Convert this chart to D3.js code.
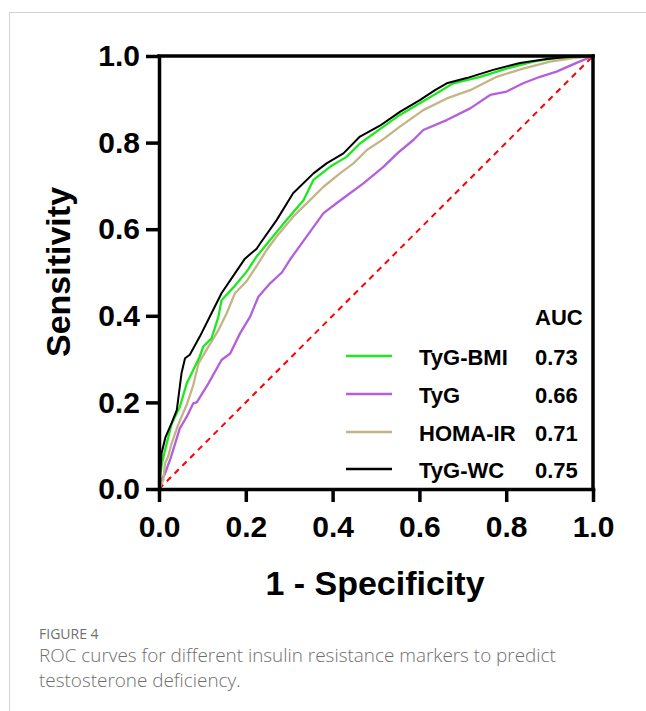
<!DOCTYPE html>
<html>
<head>
<meta charset="utf-8">
<script src="https://cdn.jsdelivr.net/npm/d3@7"></script>
<style>
  html, body { margin: 0; padding: 0; background: #fff; }
  svg { display: block; }
</style>
</head>
<body>
<svg id="chart" width="646" height="711"></svg>
<script>
// ---- Data ----
const seriesNames = ["TyG-BMI", "TyG", "HOMA-IR", "TyG-WC"];
const aucValues = ["0.73", "0.66", "0.71", "0.75"];
const seriesColors = ["#1ee81e", "#b45fdc", "#c4b487", "#000000"];

const fprTyGBMI = [0, .006, .014, .029, .048, .064, .075, .094, .102, .121, .137, .144, .171, .202, .225, .256, .294, .333, .356, .394, .432, .463, .509, .555, .601, .640, .678, .740, .801, .862, .924, 1];
const tprTyGBMI = [0, .055, .09, .15, .19, .244, .267, .306, .329, .348, .398, .436, .465, .502, .537, .575, .621, .667, .714, .744, .767, .798, .831, .864, .891, .914, .937, .952, .971, .987, .997, 1];

const fprTyG = [0, .006, .014, .027, .048, .064, .079, .087, .114, .144, .164, .187, .21, .229, .256, .283, .302, .340, .379, .409, .440, .471, .517, .551, .586, .609, .663, .717, .763, .801, .839, .878, .916, .962, 1];
const tprTyG = [0, .021, .036, .072, .14, .167, .198, .2, .244, .298, .313, .36, .398, .444, .475, .5, .53, .583, .637, .660, .683, .706, .744, .777, .806, .829, .852, .879, .910, .918, .937, .952, .964, .984, 1];

const fprHOMA = [0, .01, .014, .021, .029, .044, .064, .079, .091, .114, .137, .156, .175, .202, .225, .248, .271, .309, .348, .379, .417, .448, .479, .517, .555, .609, .663, .717, .778, .839, .901, .955, 1];
const tprHOMA = [0, .021, .059, .075, .105, .148, .195, .24, .29, .329, .367, .406, .452, .48, .515, .552, .583, .629, .667, .698, .729, .752, .783, .808, .837, .875, .902, .921, .952, .971, .987, .995, 1];

const fprTyGWC = [0, .006, .015, .029, .041, .052, .060, .071, .094, .121, .144, .175, .198, .225, .233, .271, .309, .356, .386, .425, .463, .509, .555, .601, .636, .663, .709, .770, .832, .893, .955, 1];
const tprTyGWC = [0, .083, .12, .152, .182, .268, .302, .31, .352, .406, .452, .498, .532, .555, .567, .621, .683, .729, .752, .775, .814, .839, .871, .898, .921, .937, .949, .968, .984, .993, .999, 1];

const tickValues = [0, 0.2, 0.4, 0.6, 0.8, 1.0];
const refLine = [0, 1];

const curves = [
  { fpr: fprTyGBMI, tpr: tprTyGBMI },
  { fpr: fprTyG, tpr: tprTyG },
  { fpr: fprHOMA, tpr: tprHOMA },
  { fpr: fprTyGWC, tpr: tprTyGWC }
];
// draw order: purple, tan, green, black on top
const drawOrder = [1, 2, 0, 3];

// ---- Layout ----
const svg = d3.select("#chart");
const pLeft = 159, pRight = 593, pTop = 56, pBottom = 489;
const x = d3.scaleLinear().domain([0, 1]).range([pLeft, pRight]);
const y = d3.scaleLinear().domain([0, 1]).range([pBottom, pTop]);
const boldFont = "'Liberation Sans', Arial, Helvetica, sans-serif";

// outer light frame
svg.append("rect")
  .attr("x", 9.5).attr("y", 12.5)
  .attr("width", 700).attr("height", 760)
  .attr("fill", "none").attr("stroke", "#d2d2d2").attr("stroke-width", 1);

// diagonal reference
svg.append("line")
  .attr("x1", x(refLine[0])).attr("y1", y(refLine[0]))
  .attr("x2", x(refLine[1])).attr("y2", y(refLine[1]))
  .attr("stroke", "#ff0000").attr("stroke-width", 2)
  .attr("stroke-dasharray", "6,5");

// curves
const line = d3.line().x(d => x(d[0])).y(d => y(d[1]));
drawOrder.forEach(i => {
  const c = curves[i];
  const pts = c.fpr.map((f, k) => [f, c.tpr[k]]);
  svg.append("path")
    .attr("d", line(pts))
    .attr("fill", "none")
    .attr("stroke", seriesColors[i])
    .attr("stroke-width", i === 3 ? 2 : 2.3)
    .attr("stroke-linejoin", "round");
});

// top and right frame lines
svg.append("line")
  .attr("x1", x(0)).attr("y1", y(1)).attr("x2", x(1)).attr("y2", y(1))
  .attr("stroke", "#000").attr("stroke-width", 3.5).attr("stroke-linecap", "square");
svg.append("line")
  .attr("x1", x(1)).attr("y1", y(1)).attr("x2", x(1)).attr("y2", y(0))
  .attr("stroke", "#000").attr("stroke-width", 3.5).attr("stroke-linecap", "square");

// axes
const fmt = d3.format(".1f");
const yAxis = svg.append("g").attr("transform", `translate(${pLeft},0)`)
  .call(d3.axisLeft(y).tickValues(tickValues).tickFormat(fmt).tickSize(13).tickSizeOuter(0).tickPadding(6));
const xAxis = svg.append("g").attr("transform", `translate(0,${pBottom})`)
  .call(d3.axisBottom(x).tickValues(tickValues).tickFormat(fmt).tickSize(13).tickSizeOuter(0).tickPadding(14));
[xAxis, yAxis].forEach(g => {
  g.selectAll("path.domain").attr("stroke", "#000").attr("stroke-width", 3.5).attr("stroke-linecap", "square");
  g.selectAll(".tick line").attr("stroke", "#000").attr("stroke-width", 3.5);
  g.selectAll(".tick text")
    .attr("fill", "#000")
    .style("font-family", boldFont)
    .style("font-weight", "bold")
    .style("font-size", "30px");
});

// axis titles
svg.append("text")
  .attr("x", 375).attr("y", 595)
  .attr("text-anchor", "middle")
  .style("font-family", boldFont).style("font-weight", "bold").style("font-size", "34px")
  .text("1 - Specificity");
svg.append("text")
  .attr("transform", "translate(70,272) rotate(-90)")
  .attr("text-anchor", "middle")
  .style("font-family", boldFont).style("font-weight", "bold").style("font-size", "34px")
  .text("Sensitivity");

// legend
const legBase = [365, 403, 441, 478];
svg.append("text")
  .attr("x", 535).attr("y", 325)
  .style("font-family", boldFont).style("font-weight", "bold").style("font-size", "22px")
  .text("AUC");
seriesNames.forEach((name, i) => {
  svg.append("line")
    .attr("x1", 346).attr("x2", 392)
    .attr("y1", legBase[i] - 9).attr("y2", legBase[i] - 9)
    .attr("stroke", seriesColors[i]).attr("stroke-width", 2.5);
  svg.append("text")
    .attr("x", 419).attr("y", legBase[i])
    .style("font-family", boldFont).style("font-weight", "bold").style("font-size", "22px")
    .text(name);
  svg.append("text")
    .attr("x", 535).attr("y", legBase[i])
    .style("font-family", boldFont).style("font-weight", "bold").style("font-size", "22px")
    .text(aucValues[i]);
});

// caption
svg.append("text")
  .attr("x", 39).attr("y", 639)
  .attr("fill", "#707070")
  .style("font-family", "'Open Sans', sans-serif").style("font-size", "14px")
  .text("FIGURE 4");
svg.append("text")
  .attr("x", 39).attr("y", 662)
  .attr("fill", "#6f6f6f")
  .style("font-family", "'Open Sans', sans-serif").style("font-weight", "300").style("font-size", "18.9px")
  .text("ROC curves for different insulin resistance markers to predict");
svg.append("text")
  .attr("x", 39).attr("y", 687)
  .attr("fill", "#6f6f6f")
  .style("font-family", "'Open Sans', sans-serif").style("font-weight", "300").style("font-size", "18.9px")
  .text("testosterone deficiency.");
</script>
</body>
</html>
